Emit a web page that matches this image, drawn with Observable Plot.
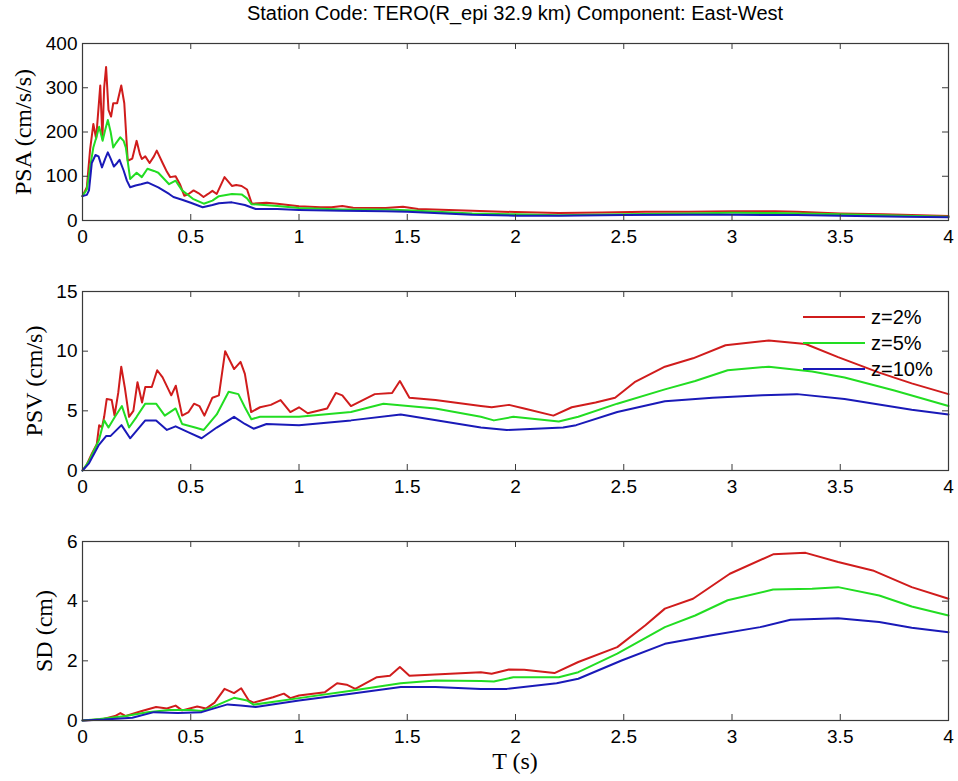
<!DOCTYPE html>
<html><head><meta charset="utf-8">
<script src="https://cdn.jsdelivr.net/npm/d3@7"></script>
<script src="https://cdn.jsdelivr.net/npm/@observablehq/plot@0.6"></script>
<style>
body{margin:0;background:#fff;}
#wrap{position:relative;width:958px;height:781px;overflow:hidden;font-family:"Liberation Sans",Arial,sans-serif;background:#fff;}
.panel{position:absolute;left:0;}
#title{position:absolute;left:82px;width:866px;top:2px;text-align:center;font-size:20px;color:#000;z-index:5;}
#xlabel{position:absolute;left:82px;width:866px;top:748px;text-align:center;font-size:24px;font-family:"Liberation Serif","Times New Roman",serif;color:#000;z-index:5;}
#legend{position:absolute;left:803px;top:304px;font-size:20px;color:#000;z-index:5;}
.lg{position:relative;height:26px;}
.lg span.l{position:absolute;left:0;top:12px;width:62px;height:2px;}
.lg span.t{position:absolute;left:68px;top:0;line-height:26px;}
</style></head><body>
<div id="wrap">
<div id="p1" class="panel" style="top:0px"></div>
<div id="p2" class="panel" style="top:250px"></div>
<div id="p3" class="panel" style="top:500px"></div>
<div id="title">Station Code: TERO(R_epi 32.9 km) Component: East-West</div>
<div id="legend"></div>
<div id="xlabel">T (s)</div>
</div>
<script>
// ---- labels ----
const dampings = ["z=2%", "z=5%", "z=10%"];
const colors = ["#d01c1c", "#22dd22", "#1a1ab8"];
const xTicks = [0, 0.5, 1, 1.5, 2, 2.5, 3, 3.5, 4];
const psaTicks = [0, 100, 200, 300, 400];
const psvTicks = [0, 5, 10, 15];
const sdTicks = [0, 2, 4, 6];

// ---- PSA (cm/s/s) ----
const T_psa2 = [0,0.02,0.035,0.05,0.063,0.082,0.092,0.1,0.109,0.12,0.132,0.142,0.16,0.179,0.193,0.209,0.23,0.25,0.265,0.274,0.29,0.31,0.33,0.343,0.37,0.39,0.405,0.43,0.45,0.47,0.49,0.513,0.535,0.559,0.58,0.6,0.62,0.656,0.69,0.71,0.735,0.76,0.782,0.85,0.9,0.95,1.0,1.1,1.15,1.2,1.25,1.4,1.48,1.55,1.8,2.0,2.2,2.4,2.6,2.8,3.0,3.2,3.3,3.5,3.7,4.0];
const psa2 = [55,75,160,218,185,305,185,300,347,250,235,265,265,305,265,135,140,180,150,139,145,130,145,158,130,110,98,100,82,56,60,68,62,53,60,67,60,98,78,80,78,70,38,40,38,35,32,30,30,33,29,28,31,26,22,19,17,18,19.5,20,21,21,20,16,14,10];
const T_psa5 = [0,0.02,0.035,0.05,0.065,0.077,0.093,0.105,0.117,0.13,0.142,0.155,0.174,0.19,0.2,0.22,0.25,0.274,0.3,0.33,0.35,0.375,0.4,0.43,0.46,0.51,0.56,0.6,0.63,0.69,0.735,0.76,0.78,0.9,1.0,1.2,1.4,1.5,1.8,2.0,2.2,2.5,2.8,3.0,3.2,3.5,3.8,4.0];
const psa5 = [55,70,120,165,190,212,180,205,227,200,165,175,188,180,165,94,108,98,117,112,108,95,82,90,68,49,38,45,55,60,59,50,37,33,28,25,25,23,16,14,12,14,16,17.5,17,14,11,8.5];
const T_psa10 = [0,0.02,0.03,0.043,0.06,0.074,0.09,0.105,0.117,0.13,0.145,0.16,0.171,0.19,0.205,0.22,0.245,0.27,0.3,0.35,0.4,0.42,0.46,0.5,0.555,0.6,0.63,0.69,0.75,0.8,0.9,1.0,1.2,1.4,1.5,1.8,2.0,2.2,2.5,2.8,3.0,3.3,3.5,3.8,4.0];
const psa10 = [55,58,68,130,148,145,120,140,154,140,122,130,137,113,90,75,79,82,86,75,60,53,47,40,30,35,39,41,35,26,26,24,22,21,19.5,13,11,10.5,12.3,13,12.8,12.2,10.8,8.5,7.4];

// ---- PSV (cm/s) ----
const T_psv2 = [0,0.02,0.043,0.066,0.077,0.09,0.1,0.112,0.135,0.148,0.165,0.179,0.195,0.215,0.235,0.254,0.275,0.29,0.32,0.345,0.37,0.41,0.431,0.46,0.49,0.515,0.54,0.563,0.6,0.63,0.659,0.7,0.73,0.75,0.779,0.82,0.87,0.915,0.96,1.0,1.04,1.13,1.17,1.2,1.24,1.35,1.43,1.466,1.51,1.63,1.84,1.89,1.97,2.04,2.175,2.26,2.37,2.46,2.55,2.69,2.82,2.97,3.17,3.34,3.49,3.68,3.83,4.0];
const psv2 = [0,0.5,1.4,2.2,3.8,3.6,4.5,6.0,5.9,4.6,6.5,8.7,7.0,4.5,5.0,7.4,5.7,7.0,7.0,8.4,7.8,6.3,7.1,4.6,4.9,5.6,5.4,4.6,6.1,6.3,10.0,8.5,9.1,8.1,4.9,5.3,5.5,5.9,4.9,5.3,4.8,5.2,6.5,6.3,5.4,6.4,6.5,7.5,6.1,5.9,5.4,5.3,5.5,5.2,4.6,5.3,5.7,6.1,7.4,8.7,9.4,10.5,10.9,10.6,9.5,8.2,7.3,6.4];
const T_psv5 = [0,0.03,0.075,0.1,0.12,0.15,0.182,0.215,0.25,0.29,0.34,0.38,0.43,0.46,0.52,0.56,0.62,0.675,0.72,0.75,0.78,0.82,1.0,1.24,1.39,1.63,1.84,1.9,1.99,2.2,2.29,2.47,2.69,2.83,2.98,3.17,3.37,3.52,3.75,4.0];
const psv5 = [0,0.8,2.5,4.2,3.6,4.5,5.4,3.6,4.5,5.6,5.6,4.6,5.2,3.9,3.6,3.4,4.7,6.6,6.4,5.3,4.3,4.5,4.5,4.9,5.6,5.2,4.5,4.2,4.5,4.1,4.5,5.6,6.8,7.5,8.4,8.7,8.3,7.8,6.7,5.4];
const T_psv10 = [0,0.03,0.074,0.11,0.13,0.18,0.22,0.29,0.34,0.39,0.43,0.49,0.55,0.62,0.7,0.75,0.79,0.85,1.0,1.24,1.47,1.84,1.96,2.22,2.28,2.47,2.69,2.91,3.14,3.3,3.52,3.83,4.0];
const psv10 = [0,0.6,2.1,2.9,2.9,3.8,2.7,4.2,4.2,3.4,3.7,3.2,2.7,3.6,4.5,3.9,3.5,3.9,3.8,4.2,4.7,3.6,3.4,3.6,3.8,4.9,5.8,6.1,6.3,6.4,6.0,5.1,4.7];

// ---- SD (cm) ----
const T_sd2 = [0,0.083,0.15,0.175,0.2,0.27,0.34,0.39,0.43,0.46,0.53,0.57,0.61,0.656,0.7,0.733,0.768,0.79,0.88,0.93,0.96,1.0,1.12,1.176,1.22,1.26,1.36,1.42,1.466,1.51,1.84,1.89,1.97,2.04,2.18,2.29,2.47,2.6,2.69,2.82,2.99,3.19,3.34,3.49,3.65,3.83,4.0];
const sd2 = [0,0.03,0.15,0.25,0.15,0.31,0.45,0.4,0.5,0.34,0.47,0.4,0.6,1.06,0.92,1.08,0.67,0.6,0.78,0.9,0.75,0.84,0.95,1.25,1.2,1.06,1.45,1.5,1.79,1.5,1.62,1.57,1.71,1.7,1.59,1.96,2.46,3.19,3.75,4.08,4.92,5.57,5.62,5.31,5.03,4.47,4.08];
const T_sd5 = [0,0.08,0.2,0.3,0.4,0.5,0.55,0.6,0.7,0.76,0.79,1.0,1.24,1.47,1.63,1.84,1.9,1.99,2.2,2.29,2.47,2.69,2.83,2.98,3.19,3.37,3.49,3.68,3.83,4.0];
const sd5 = [0,0.05,0.15,0.28,0.35,0.35,0.32,0.45,0.76,0.67,0.53,0.75,1.0,1.25,1.34,1.32,1.31,1.45,1.45,1.62,2.24,3.13,3.52,4.03,4.39,4.42,4.47,4.19,3.82,3.52];
const T_sd10 = [0,0.1,0.23,0.33,0.44,0.55,0.67,0.73,0.8,1.0,1.24,1.47,1.63,1.84,1.96,2.19,2.29,2.49,2.69,2.9,3.13,3.27,3.49,3.68,3.83,4.0];
const sd10 = [0,0.03,0.09,0.28,0.25,0.28,0.54,0.5,0.45,0.67,0.9,1.12,1.12,1.06,1.06,1.25,1.4,2.01,2.57,2.85,3.13,3.38,3.43,3.3,3.11,2.96];

function rows(pairs) {
  const out = [];
  pairs.forEach(([Ts, vs], i) => Ts.forEach((t, j) => out.push({T: t, v: vs[j], z: dampings[i]})));
  return out;
}

const W = 958, ML = 82, MR = 10;
const FW = W - ML - MR;
const sans = '"Liberation Sans", Arial, sans-serif';
const serif = '"Liberation Serif", "Times New Roman", serif';

function panel({data, yTicks, label, labelDx, height, marginTop, marginBottom}) {
  const FH = height - marginTop - marginBottom;
  const yMax = yTicks[yTicks.length - 1];
  const innerX = xTicks.slice(1, -1);
  const innerY = yTicks.slice(1, -1);
  return Plot.plot({
    width: W, height, marginLeft: ML, marginRight: MR, marginTop, marginBottom,
    style: {fontFamily: sans, fontSize: "19px", color: "#000", background: "transparent", overflow: "visible"},
    x: {domain: [0, 4]},
    y: {domain: [0, yMax]},
    color: {domain: dampings, range: colors},
    marks: [
      Plot.line(data, {x: "T", y: "v", stroke: "z", strokeWidth: 2, z: "z"}),
      Plot.frame({stroke: "#3a3a3a", strokeWidth: 1.2}),
      Plot.tickX(innerX, {x: d => d, insetTop: FH - 6, stroke: "#3a3a3a"}),
      Plot.tickX(innerX, {x: d => d, insetBottom: FH - 6, stroke: "#3a3a3a"}),
      Plot.tickY(innerY, {y: d => d, insetRight: FW - 6, stroke: "#3a3a3a"}),
      Plot.tickY(innerY, {y: d => d, insetLeft: FW - 6, stroke: "#3a3a3a"}),
      Plot.axisX({ticks: xTicks, tickSize: 0, tickPadding: 9, label: null, tickFormat: d => String(d), fontSize: 19}),
      Plot.axisY({ticks: yTicks, tickSize: 0, tickPadding: 5, label: null, tickFormat: d => String(d), fontSize: 19}),
      Plot.text([label], {frameAnchor: "left", textAnchor: "middle", lineAnchor: "middle", dx: labelDx, rotate: -90, fontSize: 24, fontFamily: serif, fill: "#000"})
    ]
  });
}

document.getElementById("p1").append(panel({
  data: rows([[T_psa2, psa2], [T_psa5, psa5], [T_psa10, psa10]]),
  yTicks: psaTicks, label: "PSA (cm/s/s)", labelDx: -59, height: 250, marginTop: 43, marginBottom: 30
}));
document.getElementById("p2").append(panel({
  data: rows([[T_psv2, psv2], [T_psv5, psv5], [T_psv10, psv10]]),
  yTicks: psvTicks, label: "PSV (cm/s)", labelDx: -48, height: 250, marginTop: 41, marginBottom: 30
}));
document.getElementById("p3").append(panel({
  data: rows([[T_sd2, sd2], [T_sd5, sd5], [T_sd10, sd10]]),
  yTicks: sdTicks, label: "SD (cm)", labelDx: -38, height: 281, marginTop: 41, marginBottom: 61
}));

const lg = document.getElementById("legend");
dampings.forEach((d, i) => {
  const row = document.createElement("div");
  row.className = "lg";
  row.innerHTML = `<span class="l" style="background:${colors[i]}"></span><span class="t">${d}</span>`;
  lg.append(row);
});
</script>
</body></html>
